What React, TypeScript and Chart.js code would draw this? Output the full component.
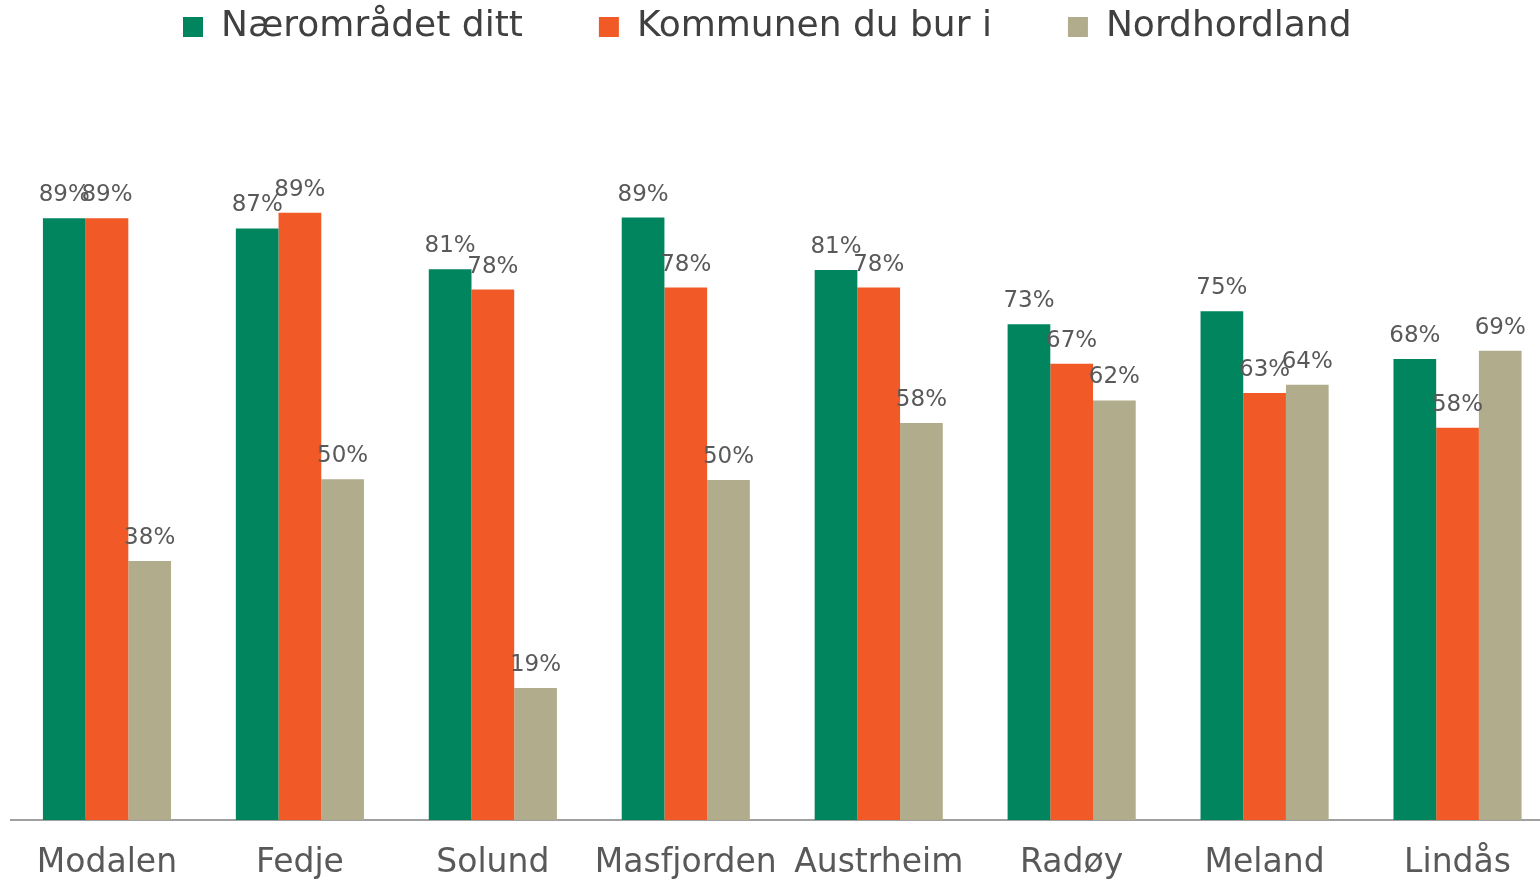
import React, { useEffect, useRef } from "react";
import { Chart, registerables } from "chart.js";

Chart.register(...registerables);

const categories = ["Modalen", "Fedje", "Solund", "Masfjorden", "Austrheim", "Radøy", "Meland", "Lindås"];
const seriesNames = ["Nærområdet ditt", "Kommunen du bur i", "Nordhordland"];
const naeromradet = [88.5, 87.0, 81.0, 88.6, 80.9, 72.9, 74.8, 67.8];
const kommunen = [88.5, 89.3, 78.0, 78.3, 78.3, 67.1, 62.8, 57.7];
const nordhordland = [38.1, 50.1, 19.4, 50.0, 58.4, 61.7, 64.0, 69.0];
const colors = ["#00855F", "#F15A26", "#B1AC8B"];

const FONT = "'DejaVu Sans', sans-serif";
const CANVAS_W = 1554;
const CANVAS_H = 881;
const LEGEND_HEIGHT = 140;
const LEGEND_ROW_TOP = 9;
const LEGEND_SHIFT = -15;
const X_AXIS_HEIGHT = 61;
const LABEL_GAP = 17;

const legendFix = {
  id: "legendFix",
  beforeLayout(chart: any) {
    const lg = chart.legend;
    if (lg && !lg.__patched) {
      const orig = lg.fit.bind(lg);
      lg.fit = function () {
        orig();
        this.height = LEGEND_HEIGHT;
      };
      lg.__patched = true;
    }
  },
  afterLayout(chart: any) {
    const lg = chart.legend;
    if (!lg) return;
    const pad = lg.options.labels.padding;
    const h = lg.bottom - lg.top;
    lg.left += LEGEND_SHIFT;
    lg.right += LEGEND_SHIFT;
    lg.top = LEGEND_ROW_TOP - pad;
    lg.bottom = lg.top + h;
  },
};

const valueLabels = {
  id: "valueLabels",
  afterDatasetsDraw(chart: any) {
    const ctx = chart.ctx;
    ctx.save();
    ctx.font = `23px ${FONT}`;
    ctx.fillStyle = "#595959";
    ctx.textAlign = "center";
    ctx.textBaseline = "alphabetic";
    chart.data.datasets.forEach((ds: any, di: number) => {
      const meta = chart.getDatasetMeta(di);
      meta.data.forEach((bar: any, i: number) => {
        const v = ds.data[i];
        ctx.fillText(Math.round(v) + "%", bar.x, bar.y - LABEL_GAP);
      });
    });
    ctx.restore();
  },
};

export default function App() {
  const canvasRef = useRef<HTMLCanvasElement>(null);

  useEffect(() => {
    document.documentElement.style.overflow = "hidden";
    document.body.style.overflow = "hidden";
    if (!canvasRef.current) return;
    const chart = new Chart(canvasRef.current, {
      type: "bar",
      data: {
        labels: categories,
        datasets: [naeromradet, kommunen, nordhordland].map((d, i) => ({
          label: seriesNames[i],
          data: d,
          backgroundColor: colors[i],
          borderWidth: 0,
          categoryPercentage: 0.664,
          barPercentage: 1,
        })),
      },
      options: {
        responsive: false,
        animation: false,
        events: [],
        layout: { padding: { left: 10.5, right: 0, top: 0, bottom: 0 } },
        plugins: {
          legend: {
            display: true,
            position: "top",
            align: "center",
            labels: {
              boxWidth: 20,
              boxHeight: 20,
              padding: 76,
              color: "#404040",
              font: { family: FONT, size: 36 },
            },
          },
          tooltip: { enabled: false },
        },
        scales: {
          x: {
            grid: { display: false, drawTicks: false },
            border: { display: true, color: "#A0A0A0", width: 2 },
            ticks: {
              color: "#595959",
              padding: 24,
              font: { family: FONT, size: 33 },
              maxRotation: 0,
              autoSkip: false,
            },
            afterFit: (scale: any) => {
              scale.height = X_AXIS_HEIGHT;
            },
          },
          y: {
            display: false,
            min: 0,
            max: 100,
          },
        },
      },
      plugins: [legendFix, valueLabels],
    } as any);
    return () => chart.destroy();
  }, []);

  return (
    <div style={{ position: "fixed", left: 0, top: 0, width: CANVAS_W, height: CANVAS_H, background: "#fff" }}>
      <canvas ref={canvasRef} width={CANVAS_W} height={CANVAS_H} style={{ display: "block" }} />
    </div>
  );
}
